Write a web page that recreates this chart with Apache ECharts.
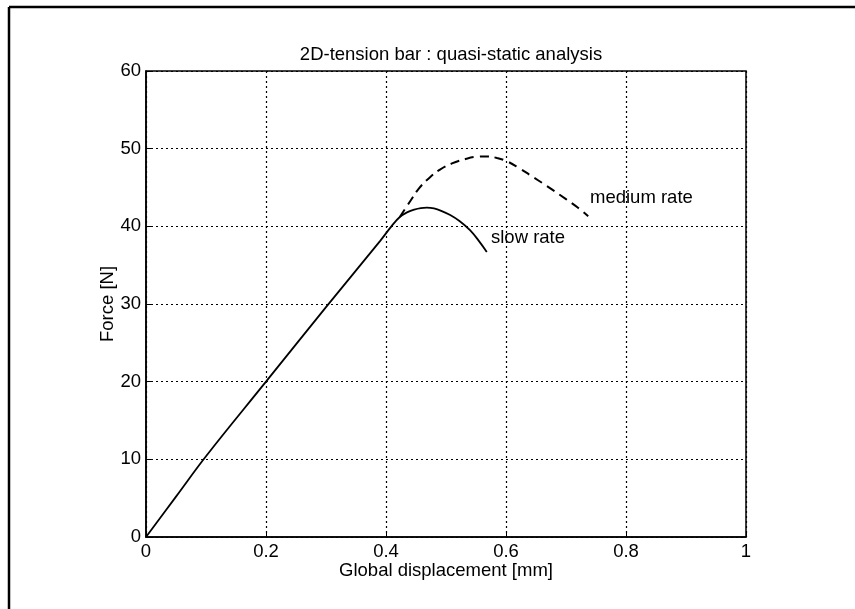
<!DOCTYPE html>
<html><head><meta charset="utf-8">
<script src="https://cdn.jsdelivr.net/npm/echarts@6/dist/echarts.min.js"></script>
<style>html,body{margin:0;padding:0;background:#fff}#c{width:855px;height:609px}</style>
</head><body><div id="c"></div>
<script>
var titleText = '2D-tension bar : quasi-static analysis';
var xName = 'Global displacement [mm]';
var yName = 'Force [N]';
var xTicks = [0, 0.2, 0.4, 0.6, 0.8, 1];
var yTicks = [0, 10, 20, 30, 40, 50, 60];
var slowX = [0, 0.05, 0.1, 0.2, 0.3, 0.39, 0.41, 0.423, 0.435, 0.447, 0.458, 0.468, 0.48, 0.492, 0.507, 0.523, 0.54, 0.555, 0.568];
var slowY = [0, 5.2, 10.4, 20.0, 29.6, 38.1, 40.1, 41.2, 41.8, 42.15, 42.35, 42.4, 42.3, 42.0, 41.45, 40.65, 39.5, 38.1, 36.7];
var medX = [0.423, 0.44, 0.455, 0.473, 0.49, 0.51, 0.534, 0.55, 0.568, 0.585, 0.601, 0.62, 0.64, 0.668, 0.70, 0.72, 0.737];
var medY = [41.2, 43.2, 44.9, 46.3, 47.3, 48.1, 48.7, 48.95, 49.0, 48.8, 48.4, 47.6, 46.6, 45.2, 43.5, 42.4, 41.3];
var labels = [{text: 'medium rate', x: 0.74, y: 43.6}, {text: 'slow rate', x: 0.575, y: 38.5}];

function pairs(xs, ys){ return xs.map(function(v,i){ return [v, ys[i]]; }); }
var font = 'Liberation Sans, Arial, sans-serif';
var fs = 18.5;
var chart = echarts.init(document.getElementById('c'));
chart.setOption({
  animation: false,
  backgroundColor: '#fff',
  title: {text: titleText, left: 446, top: 40, textAlign: 'center',
    textStyle: {fontFamily: font, fontSize: fs, fontWeight: 'normal', color: '#000'}},
  grid: {left: 146, right: 109, top: 71, bottom: 72, show: true, borderColor: '#000', borderWidth: 1.5},
  xAxis: {type: 'value', min: 0, max: 1, interval: 0.2,
    name: xName, nameLocation: 'middle', nameGap: 24, nameMoveOverlap: false,
    nameTextStyle: {fontFamily: font, fontSize: fs, color: '#000'},
    axisLine: {show: true, lineStyle: {color: '#000', width: 1.5}},
    axisTick: {show: true, inside: true, length: 5, lineStyle: {color: '#000'}},
    axisLabel: {fontFamily: font, fontSize: fs, color: '#000', margin: 5,
      formatter: function(v){ return xTicks.indexOf(Math.round(v*10)/10) >= 0 ? String(Math.round(v*10)/10) : ''; }},
    splitLine: {show: true, lineStyle: {color: '#000', type: [2, 3], width: 1.2}}
  },
  yAxis: {type: 'value', min: 0, max: 60, interval: 10,
    name: yName, nameLocation: 'middle', nameGap: 29, nameRotate: 90, nameMoveOverlap: false,
    nameTextStyle: {fontFamily: font, fontSize: fs, color: '#000'},
    axisLine: {show: true, lineStyle: {color: '#000', width: 1.5}},
    axisTick: {show: true, inside: true, length: 5, lineStyle: {color: '#000'}},
    axisLabel: {fontFamily: font, fontSize: fs, color: '#000', margin: 5,
      formatter: function(v){ return yTicks.indexOf(v) >= 0 ? String(v) : ''; }},
    splitLine: {show: true, lineStyle: {color: '#000', type: [2, 3], width: 1.2}}
  },
  series: [
    {type: 'line', data: pairs(slowX, slowY), smooth: 0.4, showSymbol: false,
      lineStyle: {color: '#000', width: 1.8}},
    {type: 'line', data: pairs(medX, medY), smooth: 0.4, showSymbol: false,
      lineStyle: {color: '#000', width: 2, type: [9, 6]}},
    {type: 'scatter', data: labels.map(function(l){ return {value: [l.x, l.y], name: l.text}; }),
      symbolSize: 0, silent: true, itemStyle: {opacity: 1},
      label: {show: true, position: 'right', distance: 0, formatter: '{b}',
        fontFamily: font, fontSize: fs, color: '#000', textBorderWidth: 0}}
  ],
  graphic: [
    {type: 'line', shape: {x1: 9, y1: 7, x2: 855, y2: 7}, style: {stroke: '#000', lineWidth: 2.5}},
    {type: 'line', shape: {x1: 9, y1: 7, x2: 9, y2: 609}, style: {stroke: '#000', lineWidth: 2.5}}
  ]
});
</script></body></html>
